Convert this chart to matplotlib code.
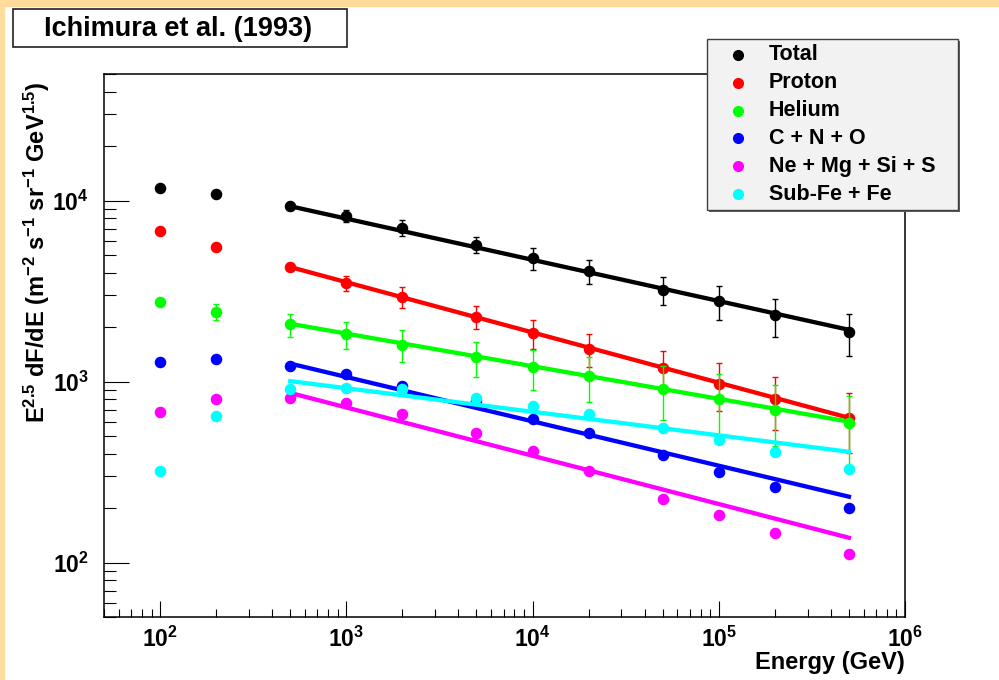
import numpy as np
import matplotlib
matplotlib.use("Agg")
import matplotlib.pyplot as plt
from matplotlib.patches import Rectangle
from matplotlib.lines import Line2D

plt.rcParams['font.family'] = ['Liberation Sans', 'DejaVu Sans']
plt.rcParams['font.weight'] = 'bold'
plt.rcParams['mathtext.default'] = 'regular'

# Energias (GeV) y espectros E^2.5 dF/dE por grupo de elementos
energia = [1e2, 2e2, 5e2, 1e3, 2e3, 5e3, 1e4, 2e4, 5e4, 1e5, 2e5, 5e5]

total = [11800, 10800, 9300, 8260, 7060, 5710, 4820, 4060, 3220, 2770, 2320, 1870]
total_err = [0, 0, 400, 650, 730, 600, 680, 620, 580, 590, 555, 485]

proton = [6750, 5550, 4290, 3510, 2940, 2275, 1860, 1520, 1190, 975, 802, 631]
proton_err = [0, 0, 200, 340, 380, 335, 340, 320, 280, 290, 263, 230]

helio = [2750, 2430, 2066, 1820, 1600, 1361, 1199, 1070, 912, 796, 700, 591]
helio_err = [0, 240, 300, 310, 320, 300, 300, 300, 300, 310, 260, 245]

cno = [1288, 1335, 1217, 1094, 950, 780, 617, 521, 392, 316, 262, 199]
nemgsis = [676, 798, 809, 763, 663, 521, 412, 319, 225, 182, 145, 111]
subfe = [319, 641, 904, 923, 905, 813, 731, 658, 555, 478, 407, 330]

# Ajustes de ley de potencia (valores en los extremos del rango)
ajuste_energia = [5e2, 5e5]
ajuste_total = [9300, 1930]
ajuste_proton = [4290, 630]
ajuste_helio = [2085, 600]
ajuste_cno = [1256, 231]
ajuste_nemgsis = [865, 137]
ajuste_subfe = [1005, 409]

series = [
    ('Total', total, total_err, ajuste_total, 'black'),
    ('Proton', proton, proton_err, ajuste_proton, '#ff0000'),
    ('Helium', helio, helio_err, ajuste_helio, '#00ff00'),
    ('C + N + O', cno, None, ajuste_cno, '#0000ff'),
    ('Ne + Mg + Si + S', nemgsis, None, ajuste_nemgsis, '#ff00ff'),
    ('Sub-Fe + Fe', subfe, None, ajuste_subfe, '#00ffff'),
]

W, H = 999, 680
fig = plt.figure(figsize=(W / 100, H / 100), dpi=100)

# franjas de color del canvas
fig.patches.append(Rectangle((0, 1 - 6 / H), 1, 6 / H, transform=fig.transFigure,
                             color='#ffda99', zorder=0))
fig.patches.append(Rectangle((0, 0), 4 / W, 1, transform=fig.transFigure,
                             color='#ffdd9f', zorder=0))

ax = fig.add_axes([104 / W, 1 - 617 / H, (905 - 104) / W, (617 - 74) / H])
ax.set_xscale('log')
ax.set_yscale('log')
ax.set_xlim(50, 1e6)
ax.set_ylim(50, 50000)

for i, (nombre, y, err, ajuste, color) in enumerate(series):
    z = 3 + i
    if err is not None:
        ax.errorbar(energia, y, yerr=err, fmt='none', ecolor=color, elinewidth=1.0,
                    capsize=2.5, capthick=1.0, zorder=z)
    ax.plot(energia, y, 'o', color=color, markersize=7.3, zorder=z)
    ax.plot(ajuste_energia, ajuste, '-', color=color, linewidth=3.1, zorder=z)

for s in ax.spines.values():
    s.set_linewidth(1.1)
ax.tick_params(which='both', direction='in', top=False, right=False, width=0.8,
               labelsize=16.5)
ax.tick_params(axis='x', which='major', length=11.5, pad=7)
ax.tick_params(axis='x', which='minor', length=5.8)
ax.tick_params(axis='y', which='major', length=18, pad=11)
ax.tick_params(axis='y', which='minor', length=8.6)

fig.text(905 / W, 1 - 663 / H, 'Energy (GeV)', ha='right', va='center', fontsize=17)
fig.text(37 / W, 1 - 82 / H,
         r'E$^{2.5}$ dF/dE (m$^{-2}$ s$^{-1}$ sr$^{-1}$ GeV$^{1.5}$)',
         rotation=90, ha='center', va='top', fontsize=17)

# recuadro del titulo
fig.patches.append(Rectangle((13 / W, 1 - 47 / H), (347 - 13) / W, (47 - 9) / H,
                             transform=fig.transFigure, facecolor='white',
                             edgecolor='#222222', linewidth=1.2, zorder=1))
fig.text(178 / W, 1 - 29 / H, 'Ichimura et al. (1993)', ha='center', va='center',
         fontsize=19.5, zorder=2)

# leyenda estilo ROOT
lx0, lx1, ly0, ly1 = 707, 958, 39, 210
fig.patches.append(Rectangle(((lx0 + 2) / W, 1 - (ly1 + 2) / H), (lx1 - lx0) / W,
                             (ly1 - ly0) / H, transform=fig.transFigure,
                             facecolor='#606060', edgecolor='none', zorder=5))
fig.patches.append(Rectangle((lx0 / W, 1 - ly1 / H), (lx1 - lx0) / W, (ly1 - ly0) / H,
                             transform=fig.transFigure, facecolor='#f2f2f2',
                             edgecolor='#404040', linewidth=1.0, zorder=6))
for i, (nombre, y, err, ajuste, color) in enumerate(series):
    fila = 1 - (55 + 27.8 * i) / H
    fig.add_artist(Line2D([738 / W], [fila], marker='o', color=color, markersize=7,
                          transform=fig.transFigure, zorder=7))
    fig.text(769 / W, fila, nombre, ha='left', va='center', fontsize=15.5, zorder=7)

fig.savefig('out.png', dpi=100)
